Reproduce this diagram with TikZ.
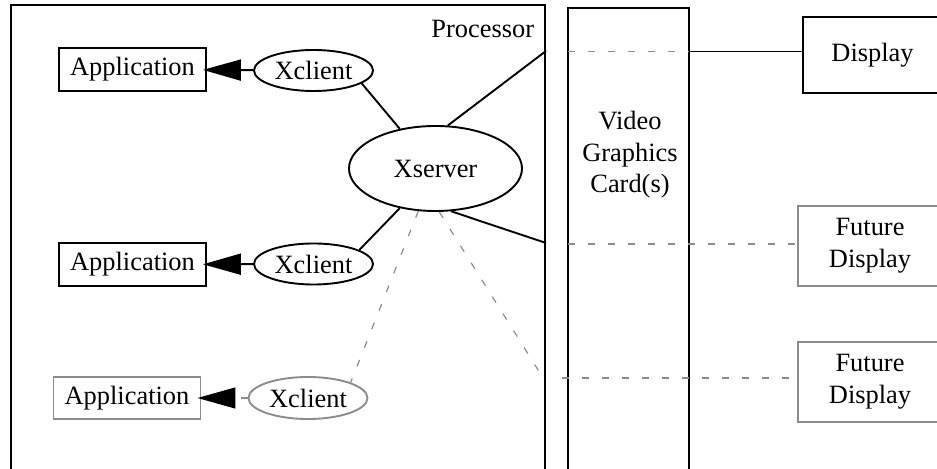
\documentclass[tikz,border=0pt]{standalone}
\usepackage{fontspec}
\setmainfont{Liberation Serif}
\usetikzlibrary{arrows.meta,shapes.geometric}

\begin{document}
\begin{tikzpicture}[x=0.5pt, y=-0.5pt, line width=0.95pt,
  font=\fontsize{13.2}{15.8}\selectfont,
  app/.style={draw, rectangle, inner sep=0pt, minimum width=73.5pt, minimum height=21.5pt},
  client/.style={draw, ellipse, inner sep=0pt, minimum width=59.5pt, minimum height=20.5pt},
  screen/.style={draw, rectangle, inner sep=0pt, align=center, minimum width=72pt, minimum height=40pt},
  fut/.style={draw=black!45},
  faint/.style={black!45, semithick, dash pattern=on 3.5pt off 6.5pt},
  tip/.style={-{Triangle[length=19pt, width=10.5pt, color=black, fill=black]}, shorten >=-2pt}]
  \clip (0,0) rectangle (937,469);

  % the two boxes
  \draw (11,5) rectangle (545,480);
  \draw (568,8) rectangle (689,480);
  \node[anchor=base east, inner sep=0pt] (P) at (535,38) {Processor};
  \node[align=center, inner sep=0pt] (V) at (630,155) {Video\\Graphics\\Card(s)};

  \node[ellipse, draw, inner sep=0pt, minimum width=86.5pt, minimum height=42.5pt] (S) at (435.5,168.5) {Xserver};

  \node[app] (A1) at (132.5,69.5) {Application};
  \node[client] (C1) at (313.5,70.5) {Xclient};
  \node[app] (A2) at (132.5,264.5) {Application};
  \node[client] (C2) at (313.5,264) {Xclient};
  \node[app, fut, minimum height=21pt] (A3) at (127,398) {Application};
  \node[client, fut, minimum height=21pt] (C3) at (308,398) {Xclient};

  \node[screen, minimum width=69.5pt, minimum height=38pt] (D) at (872.5,55) {Display};
  \node[screen, fut] (F1) at (870,246) {Future\\Display};
  \node[screen, fut] (F2) at (870,382) {Future\\Display};

  \coordinate (p1) at (546,51);
  \coordinate (p2) at (546,243);
  \coordinate (p3) at (545,381);
  \coordinate (q1) at (568,51.5);
  \coordinate (v1) at (689,51.5);
  \coordinate (q2) at (568,244);
  \coordinate (q3) at (562,378);

  \draw[tip] (C1) -- (A1);
  \draw[tip] (C2) -- (A2);
  \draw[faint, tip] (C3) -- (A3);

  \draw (C1.-15) -- (S.132);
  \draw (C2.17) -- (S.-132);
  \draw[faint] (S.-112) -- (C3.20);
  \draw (S.74) -- (p1);
  \draw (S.-70) -- (p2);
  \draw[faint] (S.-85) -- (p3);

  \draw[faint] (q1) -- (v1);
  \draw (v1) -- (v1 -| D.west);
  \draw[faint] (q2) -- (q2 -| F1.west);
  \draw[faint] (q3) -- (q3 -| F2.west);
\end{tikzpicture}
\end{document}
